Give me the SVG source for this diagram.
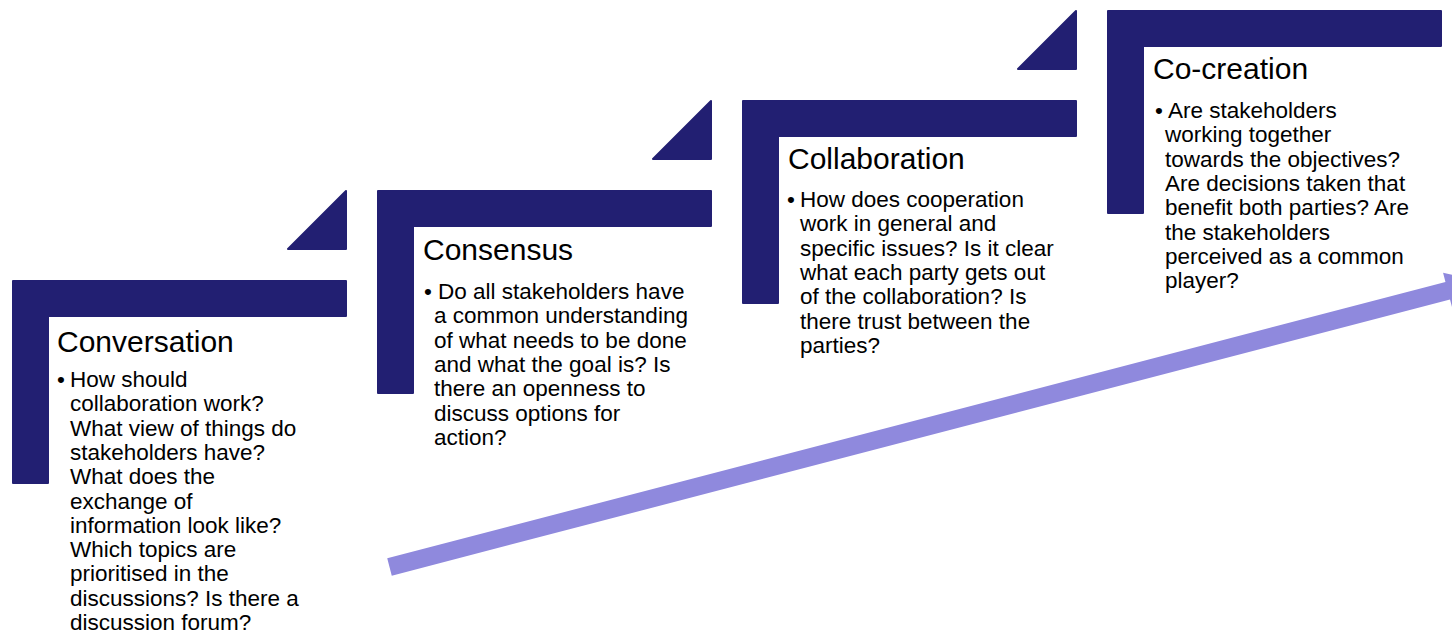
<svg xmlns="http://www.w3.org/2000/svg" width="1452" height="635" viewBox="0 0 1452 635">
  <style>
    .step { fill: #221f72; stroke: #221f72; stroke-width: 2; stroke-linejoin: round; }
    .title { font-family: "Liberation Sans", Arial, sans-serif; font-size: 30px; fill: #000; }
    .body { font-family: "Liberation Sans", Arial, sans-serif; font-size: 22.5px; fill: #000; }
    .arrow { fill: #8f89dd; }
  </style>
  <defs>
    <!-- L-shaped step bracket, origin at its top-left corner -->
    <path id="bracket" class="step" d="M1,1 H334 V36 H36 V203 H1 Z"/>
    <!-- small triangle rising to the next step -->
    <path id="riser" class="step" d="M276,-31 L334,-89 V-31 Z"/>
  </defs>

  <rect width="1452" height="635" fill="#ffffff"/>

  <!-- rising progress arrow -->
  <g id="connectors">
    <polygon class="arrow" transform="translate(389.5,567) rotate(-14.63)"
             points="0,-9 1093.7,-9 1093.7,-18.5 1130,0 1093.7,18.5 1093.7,9 0,9"/>
  </g>

  <g id="conversation" transform="translate(12,280)">
    <use href="#bracket"/>
    <use href="#riser"/>
    <text class="title" x="45" y="72">Conversation</text>
    <text class="body" x="45" y="107">•</text>
    <text class="body" x="58" y="107">How should</text>
    <text class="body" x="58" y="131.3">collaboration work?</text>
    <text class="body" x="58" y="155.6">What view of things do</text>
    <text class="body" x="58" y="179.9">stakeholders have?</text>
    <text class="body" x="58" y="204.2">What does the</text>
    <text class="body" x="58" y="228.5">exchange of</text>
    <text class="body" x="58" y="252.8">information look like?</text>
    <text class="body" x="58" y="277.1">Which topics are</text>
    <text class="body" x="58" y="301.4">prioritised in the</text>
    <text class="body" x="58" y="325.7">discussions? Is there a</text>
    <text class="body" x="58" y="350">discussion forum?</text>
  </g>

  <g id="consensus" transform="translate(377,190)">
    <use href="#bracket"/>
    <use href="#riser"/>
    <text class="title" x="46" y="70">Consensus</text>
    <text class="body" x="47" y="109">•</text>
    <text class="body" x="61" y="109">Do all stakeholders have</text>
    <text class="body" x="57" y="133.3">a common understanding</text>
    <text class="body" x="57" y="157.6">of what needs to be done</text>
    <text class="body" x="57" y="181.9">and what the goal is? Is</text>
    <text class="body" x="57" y="206.2">there an openness to</text>
    <text class="body" x="57" y="230.5">discuss options for</text>
    <text class="body" x="57" y="254.8">action?</text>
  </g>

  <g id="collaboration" transform="translate(742,100)">
    <use href="#bracket"/>
    <use href="#riser"/>
    <text class="title" x="46" y="69">Collaboration</text>
    <text class="body" x="45" y="107">•</text>
    <text class="body" x="58" y="107">How does cooperation</text>
    <text class="body" x="58" y="131.3">work in general and</text>
    <text class="body" x="58" y="155.6">specific issues? Is it clear</text>
    <text class="body" x="58" y="179.9">what each party gets out</text>
    <text class="body" x="58" y="204.2">of the collaboration? Is</text>
    <text class="body" x="58" y="228.5">there trust between the</text>
    <text class="body" x="58" y="252.8">parties?</text>
  </g>

  <g id="co-creation" transform="translate(1107,10)">
    <use href="#bracket"/>
    <text class="title" x="46" y="69">Co-creation</text>
    <text class="body" x="48" y="108">•</text>
    <text class="body" x="61" y="108">Are stakeholders</text>
    <text class="body" x="58" y="132.3">working together</text>
    <text class="body" x="58" y="156.6">towards the objectives?</text>
    <text class="body" x="58" y="180.9">Are decisions taken that</text>
    <text class="body" x="58" y="205.2">benefit both parties? Are</text>
    <text class="body" x="58" y="229.5">the stakeholders</text>
    <text class="body" x="58" y="253.8">perceived as a common</text>
    <text class="body" x="58" y="278.1">player?</text>
  </g>
</svg>
